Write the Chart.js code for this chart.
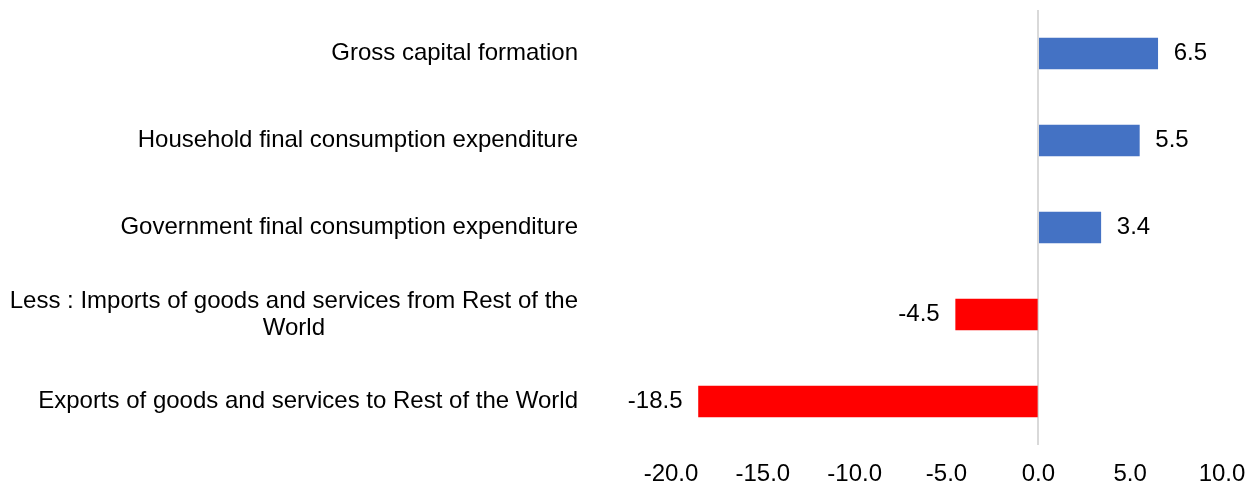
<!DOCTYPE html>
<html>
<head>
<meta charset="utf-8">
<script src="https://cdn.jsdelivr.net/npm/chart.js@4/dist/chart.umd.min.js"></script>
<style>
  html, body { margin: 0; padding: 0; background: #fff; }
  #wrap { width: 1253px; height: 484px; position: relative; }
</style>
</head>
<body>
<div id="wrap"><canvas id="chart"></canvas></div>
<script>
// Datos del gráfico
const categories = [
    'Gross capital formation',
    'Household final consumption expenditure',
    'Government final consumption expenditure',
    ['Less : Imports of goods and services from Rest of the', 'World'],
    'Exports of goods and services to Rest of the World'
];
const values = [6.5, 5.5, 3.4, -4.5, -18.5];
const xTicks = [-20, -15, -10, -5, 0, 5, 10];

const FONT = '"Liberation Sans", Arial, sans-serif';
const TEXT_COLOR = '#000000';

// Etiquetas de categoría (centradas por bloque, alineadas a la derecha)
const categoryLabels = {
    id: 'categoryLabels',
    afterDraw(chart) {
        const ctx = chart.ctx;
        const y = chart.scales.y;
        const right = 578;
        ctx.save();
        ctx.font = '24px ' + FONT;
        ctx.fillStyle = TEXT_COLOR;
        ctx.textBaseline = 'middle';
        ctx.textAlign = 'center';
        categories.forEach((label, i) => {
            const lines = Array.isArray(label) ? label : [label];
            const widest = Math.max(...lines.map(l => ctx.measureText(l).width));
            const cx = right - widest / 2;
            const lh = 27;
            const cy = y.getPixelForValue(i);
            lines.forEach((line, j) => {
                ctx.fillText(line, cx, cy + (j - (lines.length - 1) / 2) * lh);
            });
        });
        ctx.restore();
    }
};

// Etiquetas de valores al extremo de cada barra
const valueLabels = {
    id: 'valueLabels',
    afterDatasetsDraw(chart) {
        const ctx = chart.ctx;
        const meta = chart.getDatasetMeta(0);
        ctx.save();
        ctx.font = '24px ' + FONT;
        ctx.fillStyle = TEXT_COLOR;
        ctx.textBaseline = 'middle';
        meta.data.forEach((bar, i) => {
            const v = values[i];
            if (v >= 0) {
                ctx.textAlign = 'left';
                ctx.fillText(v.toFixed(1), bar.x + 16, bar.y);
            } else {
                ctx.textAlign = 'right';
                ctx.fillText(v.toFixed(1), bar.x - 16, bar.y);
            }
        });
        ctx.restore();
    }
};

new Chart(document.getElementById('chart'), {
    type: 'bar',
    data: {
        labels: categories,
        datasets: [{
            data: values,
            backgroundColor: values.map(v => v >= 0 ? '#4472C4' : '#FF0000'),
            borderWidth: 0,
            barThickness: 31
        }]
    },
    plugins: [categoryLabels, valueLabels],
    options: {
        indexAxis: 'y',
        responsive: true,
        maintainAspectRatio: false,
        animation: false,
        layout: {
            padding: { left: 671, right: 31, top: 10, bottom: 0 }
        },
        plugins: {
            legend: { display: false },
            tooltip: { enabled: false }
        },
        scales: {
            x: {
                min: -20,
                max: 10,
                afterBuildTicks: function(scale) {
                    scale.ticks = xTicks.map(v => ({ value: v }));
                },
                afterFit: function(scale) {
                    scale.height = 39;
                    scale.paddingLeft = 0;
                    scale.paddingRight = 0;
                },
                border: { display: false },
                grid: {
                    drawTicks: false,
                    lineWidth: 2,
                    color: function(context) {
                        return context.tick && context.tick.value === 0 ? '#D9D9D9' : 'rgba(0,0,0,0)';
                    }
                },
                ticks: {
                    padding: 15,
                    color: TEXT_COLOR,
                    font: { family: FONT, size: 24 },
                    maxRotation: 0,
                    callback: function(value) {
                        return Number(value).toFixed(1);
                    }
                }
            },
            y: {
                display: false
            }
        }
    }
});
</script>
</body>
</html>
